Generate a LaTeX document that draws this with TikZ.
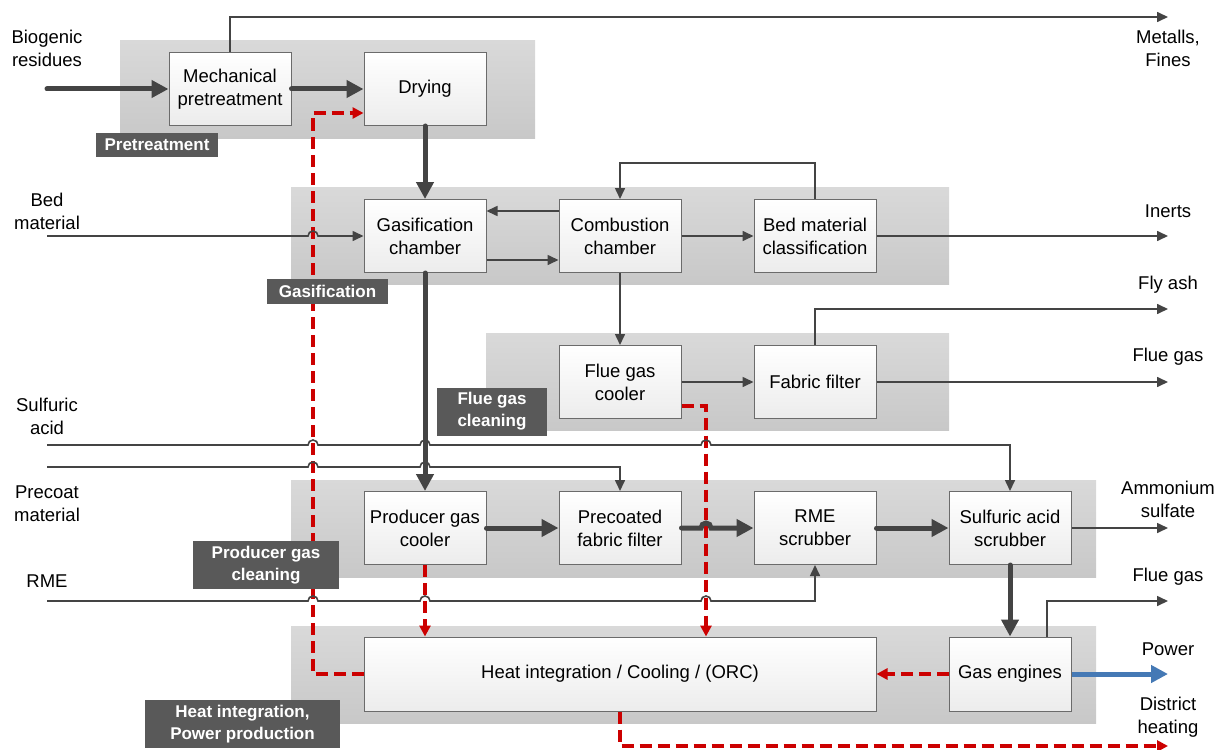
\documentclass[tikz,border=0pt]{standalone}
\usepackage{fontspec}
\setmainfont{Liberation Sans}
\usetikzlibrary{arrows.meta}
\definecolor{linegray}{HTML}{444444}
\definecolor{boxborder}{HTML}{6B6B6B}
\definecolor{boxbottom}{HTML}{ECECEC}
\definecolor{bandtop}{HTML}{D9D9D9}
\definecolor{bandbottom}{HTML}{C8C8C8}
\definecolor{tagfill}{HTML}{595959}
\definecolor{heatred}{HTML}{CC0000}
\definecolor{powerblue}{HTML}{4579B5}
\begin{document}
\begin{tikzpicture}[x=1pt,y=-1pt,
  txt/.style={font=\fontsize{18.5}{23}\selectfont, align=center, inner sep=0pt, text=black},
  proc/.style={draw=boxborder, line width=1pt, top color=white, bottom color=boxbottom,
    minimum width=122pt, minimum height=73pt, align=center, inner xsep=1pt,
    font=\fontsize{18.5}{23}\selectfont},
  tag/.style={fill=tagfill, text=white, font=\fontsize{17}{22}\selectfont\bfseries,
    align=center, inner sep=0pt},
  band/.style={top color=bandtop, bottom color=bandbottom, draw=none},
  flow/.style={draw=linegray, line width=1.6pt, -{Triangle[length=11pt,width=10pt]}},
  mainflow/.style={draw=linegray, line width=5pt, line cap=round, -{Triangle[length=17pt,width=17pt]}},
  heatflow/.style={draw=heatred, line width=3.2pt, dash pattern=on 12pt off 6pt,
    -{Triangle[length=11pt,width=11pt]}},
  powerflow/.style={draw=powerblue, line width=5pt, -{Triangle[length=17pt,width=17pt]}}
]
\useasboundingbox (0,0) rectangle (1217,749);

% process area backgrounds
\shade[band] (120,41) rectangle (535,138);
\shade[band] (291,187) rectangle (949,284);
\shade[band] (486,333) rectangle (949,430);
\shade[band] (291,480) rectangle (1096,577);
\shade[band] (291,626) rectangle (1096,723);

% process units
\node[proc] (mech) at (230,89) {Mechanical\\pretreatment};
\node[proc] (dry)  at (425,89) {Drying};
\node[proc] (gas)  at (425,236) {Gasification\\chamber};
\node[proc] (comb) at (620,236) {Combustion\\chamber};
\node[proc] (bed)  at (815,236) {Bed material\\classification};
\node[proc] (fgc)  at (620,382) {Flue gas\\cooler};
\node[proc] (ff)   at (815,382) {Fabric filter};
\node[proc] (pgc)  at (425,528) {Producer gas\\cooler};
\node[proc] (pff)  at (620,528) {Precoated\\fabric filter};
\node[proc] (rme)  at (815,528) {RME\\scrubber};
\node[proc] (sas)  at (1010,528) {Sulfuric acid\\scrubber};
\node[proc, minimum width=512pt, minimum height=74pt] (heat) at (620,674) {Heat integration / Cooling / (ORC)};
\node[proc, minimum height=74pt] (ge) at (1010,674) {Gas engines};

% inputs and outputs
\node[txt] (tBio)  at (47,48.5) {Biogenic\\residues};
\node[txt] (tBed)  at (47,211.5) {Bed\\material};
\node[txt] (tSulf) at (47,416) {Sulfuric\\acid};
\node[txt] (tPre)  at (47,503.5) {Precoat\\material};
\node[txt] (tRme)  at (47,581) {RME};
\node[txt] (tMet)  at (1168,48.5) {Metalls,\\Fines};
\node[txt] (tIn)   at (1168,211) {Inerts};
\node[txt] (tFly)  at (1168,285) {Fly ash};
\node[txt] (tFg1)  at (1168,357) {Flue gas};
\node[txt] (tAmm)  at (1168,499) {Ammonium\\sulfate};
\node[txt] (tFg2)  at (1168,577) {Flue gas};
\node[txt] (tPow)  at (1168,649) {Power};
\node[txt] (tDh)   at (1168,717.5) {District\\heating};

\coordinate (inBio)  at (47,89);
\coordinate (inBed)  at (47,236);
\coordinate (inSulf) at (47,445);
\coordinate (inPre)  at (47,467);
\coordinate (inRme)  at (47,601);
\coordinate (outMet) at (1168,17);
\coordinate (outIn)  at (1168,236);
\coordinate (outFly) at (1168,309);
\coordinate (outFg1) at (1168,382);
\coordinate (outAmm) at (1168,528);
\coordinate (outFg2) at (1168,601);
\coordinate (outPow) at (1168,674);
\coordinate (outDh)  at (1168,746);
\coordinate (c313)   at (313,0);
\coordinate (c706)   at (706,0);

% heat recovery (red, dashed)
\draw[heatflow] (heat.west) -- (heat.west -| c313) |- ([yshift=-24pt]dry.west);
\draw[heatflow] ([yshift=-24pt]fgc.east) -| (c706 |- heat.north);
\draw[heatflow] (pgc.south) -- (pgc.south |- heat.north);
\draw[heatflow] (ge.west) -- (heat.east);
\draw[heatflow] (heat.south) |- (outDh);

% main gas path
\draw[mainflow] (inBio) -- (mech.west);
\draw[mainflow] (mech.east) -- (dry.west);
\draw[mainflow] (dry.south) -- (gas.north);
\draw[mainflow] (gas.south) -- (pgc.north);
\draw[mainflow] (pgc.east) -- (pff.west);
\draw[mainflow] (pff.east) -- (701,528) arc[start angle=180,end angle=0,radius=5pt] -- (rme.west);
\draw[mainflow] (rme.east) -- (sas.west);
\draw[mainflow] (sas.south) -- (ge.north);
\draw[powerflow] (ge.east) -- (outPow);

% auxiliary streams
\draw[flow] (mech.north) |- (outMet);
\draw[flow] (inBed) -- (308,236) arc[start angle=180,end angle=0,radius=5pt] -- (gas.west);
\draw[flow] ([yshift=25pt]comb.west) -- ([yshift=25pt]gas.east);
\draw[flow] ([yshift=-24pt]gas.east) -- ([yshift=-24pt]comb.west);
\draw[flow] (comb.east) -- (bed.west);
\draw[flow] (bed.north) -- ++(0,-36) -| (comb.north);
\draw[flow] (bed.east) -- (outIn);
\draw[flow] (comb.south) -- (fgc.north);
\draw[flow] (fgc.east) -- (ff.west);
\draw[flow] (ff.north) |- (outFly);
\draw[flow] (ff.east) -- (outFg1);
\draw[flow] (inSulf) -- (308,445) arc[start angle=180,end angle=0,radius=5pt]
  -- (420,445) arc[start angle=180,end angle=0,radius=5pt]
  -- (701,445) arc[start angle=180,end angle=0,radius=5pt] -| (sas.north);
\draw[flow] (inPre) -- (308,467) arc[start angle=180,end angle=0,radius=5pt]
  -- (420,467) arc[start angle=180,end angle=0,radius=5pt] -| (pff.north);
\draw[flow] (inRme) -- (308,601) arc[start angle=180,end angle=0,radius=5pt]
  -- (420,601) arc[start angle=180,end angle=0,radius=5pt]
  -- (701,601) arc[start angle=180,end angle=0,radius=5pt] -| (rme.south);
\draw[flow] (sas.east) -- (outAmm);
\draw[flow] ([xshift=37pt]ge.north) |- (outFg2);

% area tags
\node[tag, minimum width=122pt, minimum height=24pt] (tagPre) at (157,145) {Pretreatment};
\node[tag, minimum width=121pt, minimum height=25pt] (tagGas) at (327.5,291) {Gasification};
\node[tag, minimum width=110pt, minimum height=48pt] (tagFgc) at (492,411.5) {Flue gas\\cleaning};
\node[tag, minimum width=146pt, minimum height=48pt] (tagPgc) at (266,565) {Producer gas\\cleaning};
\node[tag, minimum width=195pt, minimum height=48pt] (tagHeat) at (242.5,724) {Heat integration,\\Power production};
\end{tikzpicture}
\end{document}
